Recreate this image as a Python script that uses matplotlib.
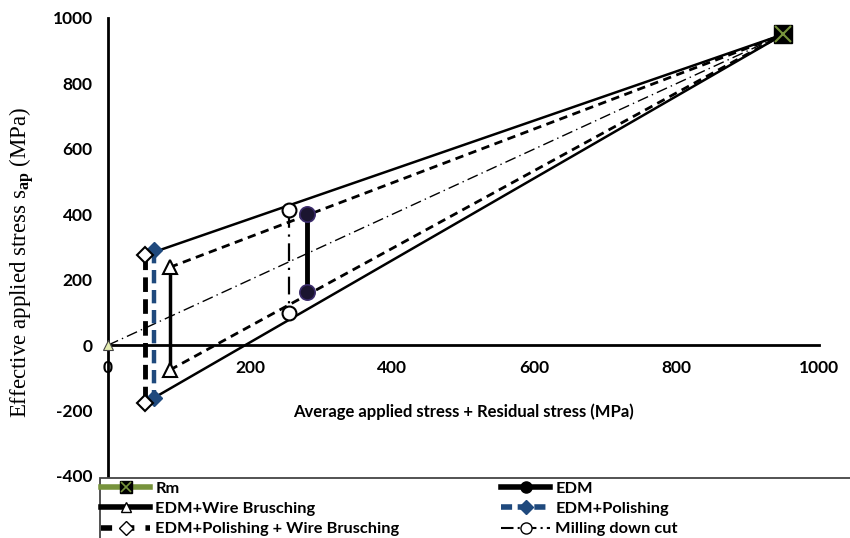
import matplotlib
matplotlib.use("Agg")
import matplotlib.pyplot as plt
from matplotlib.lines import Line2D
from matplotlib.patches import Rectangle
from matplotlib.legend_handler import HandlerTuple

plt.rcParams['font.family'] = ['Lato', 'DejaVu Sans']
plt.rcParams['mathtext.fontset'] = 'custom'
plt.rcParams['mathtext.rm'] = 'Liberation Serif'
plt.rcParams['mathtext.bf'] = 'Liberation Serif:bold'

# ---- data ----
rm_point = (950, 950)
edm_x = [280, 280]
edm_y = [400, 162]
wire_x = [87, 87]
wire_y = [238, -76]
pol_x = [64, 64]
pol_y = [290, -162]
polwire_x = [52, 52]
polwire_y = [275, -177]
mill_x = [255, 255]
mill_y = [413, 98]
origin = (0, 0)

x_ticks = [0, 200, 400, 600, 800, 1000]
y_ticks = [-400, -200, 0, 200, 400, 600, 800, 1000]

W, H = 850, 538
fig = plt.figure(figsize=(W / 100, H / 100), dpi=100)
ax = fig.add_axes([108 / W, 1 - 476 / H, (819 - 108) / W, (476 - 18) / H])
ax.set_xlim(0, 1000)
ax.set_ylim(-400, 1000)

green = '#77933C'
blue = '#1F497D'
edm_col = '#1b1530'

# sloped lines to Rm
ax.plot([polwire_x[0], rm_point[0]], [polwire_y[0], rm_point[1]], color='black', lw=1.8, zorder=2)
ax.plot([polwire_x[1], rm_point[0]], [polwire_y[1], rm_point[1]], color='black', lw=1.8, zorder=2)
ax.plot([wire_x[0], rm_point[0]], [wire_y[0], rm_point[1]], color='black', lw=2.0, dashes=(3, 2), zorder=2)
ax.plot([wire_x[1], rm_point[0]], [wire_y[1], rm_point[1]], color='black', lw=2.0, dashes=(3, 2), zorder=2)
ax.plot([origin[0], rm_point[0]], [origin[1], rm_point[1]], color='black', lw=1.0, dashes=(8, 3, 1, 3), zorder=2)

# vertical series
ax.plot(mill_x, mill_y, color='black', lw=1.6, dashes=(8, 3, 1, 3), marker='o', ms=10,
        mfc='white', mec='black', mew=1.5, zorder=4)
ax.plot(edm_x, edm_y, color='black', lw=3.5, marker='o', ms=11,
        mfc=edm_col, mec='#3b2b6b', mew=1.2, zorder=4)
ax.plot(wire_x, wire_y, color='black', lw=2.5, marker='^', ms=10,
        mfc='white', mec='black', mew=1.5, zorder=4)
ax.plot(pol_x, pol_y, color=blue, lw=3.2, dashes=(3, 1.5), marker='D', ms=8,
        mfc=blue, mec=blue, zorder=4)
ax.plot(polwire_x, polwire_y, color='black', lw=3.5, dashes=(3, 1.5), marker='D', ms=8,
        mfc='white', mec='black', mew=1.5, zorder=5)
ax.plot([rm_point[0]], [rm_point[1]], color=green, marker='s', ms=13, mfc='black', mec='black', zorder=6)
ax.plot([rm_point[0]], [rm_point[1]], color=green, marker='x', ms=11, mew=1.5, ls='none', zorder=7)
ax.plot([origin[0]], [origin[1]], marker='^', ms=7, mfc='#e4ecb0', mec='#444', mew=0.8, ls='none', zorder=7,
        clip_on=False)

# axes styling
for s in ['top', 'right']:
    ax.spines[s].set_visible(False)
ax.spines['bottom'].set_position(('data', 0))
ax.spines['left'].set_position(('data', 0))
ax.spines['bottom'].set_linewidth(2)
ax.spines['left'].set_linewidth(2)
ax.set_xticks(x_ticks)
ax.set_yticks(y_ticks)
ax.set_xticklabels([str(v) for v in x_ticks])
ax.set_yticklabels([str(v) for v in y_ticks])
ax.tick_params(axis='x', length=0, pad=11, labelsize=12.5)
ax.tick_params(axis='y', length=0, pad=11, labelsize=12.5)
for lab in ax.get_xticklabels() + ax.get_yticklabels():
    lab.set_fontweight('bold')

ax.text(500, -205, 'Average applied stress + Residual stress (MPa)', ha='center', va='center',
        fontsize=12, fontweight='bold')
fig.text(22 / W, 1 - 262 / H, r'Effective applied stress s$_{\mathbf{ap}}$ (MPa)', rotation=90,
         ha='center', va='center', fontsize=16.5, family='Liberation Serif')

# legend
fig.patches.append(Rectangle((100 / W, -0.01), 1.0, (1 - 478 / H) + 0.01, transform=fig.transFigure,
                             facecolor='white', edgecolor='#444444', lw=1.3, zorder=10))
h_rm = (Line2D([], [], color=green, lw=4, marker='s', ms=9, mfc='black', mec='black'),
        Line2D([], [], color=green, marker='x', ms=7, mew=1.2, ls='none'))
h_edm = Line2D([], [], color='black', lw=4, marker='o', ms=8, mfc='black', mec='black')
h_wire = Line2D([], [], color='black', lw=4, marker='^', ms=7, mfc='white', mec='black')
h_pol = Line2D([], [], color=blue, lw=4, dashes=(2, 1), marker='D', ms=7, mfc=blue, mec=blue)
h_polwire = Line2D([], [], color='black', lw=4, dashes=(2, 2), marker='D', ms=7, mfc='white', mec='black')
h_mill = Line2D([], [], color='black', lw=1.5, dashes=(6, 2, 1, 2), marker='o', ms=8, mfc='white', mec='black')
handles = [h_rm, h_wire, h_polwire, h_edm, h_pol, h_mill]
labels = ['Rm', 'EDM+Wire Brusching', 'EDM+Polishing + Wire Brusching', 'EDM', 'EDM+Polishing', 'Milling down cut']
leg = fig.legend(handles, labels, loc='upper left', bbox_to_anchor=(98 / W, 1 - 478 / H), ncol=2,
                 frameon=False, fontsize=11.8, handlelength=3.0, handletextpad=0.3, columnspacing=6.2,
                 labelspacing=0.36, borderpad=0.2, borderaxespad=0,
                 handler_map={tuple: HandlerTuple(ndivide=1)})
leg.set_zorder(11)
for t in leg.get_texts():
    t.set_fontweight('bold')

fig.savefig('out.png', dpi=100)
